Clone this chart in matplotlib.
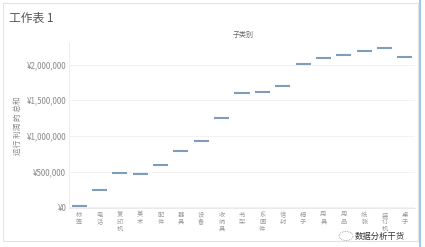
import matplotlib
matplotlib.use("Agg")
import matplotlib.pyplot as plt
from matplotlib.patches import Rectangle, Ellipse
import numpy as np

plt.rcParams['font.family'] = ['Noto Sans CJK SC', 'DejaVu Sans']

# running total of profit per sub-category
categories = ["标签", "电话", "复印机", "美术", "配件", "器具", "设备", "收纳具", "书架",
              "系固件", "信封", "椅子", "用具", "用品", "纸张", "装订机", "桌子"]
running_total = [24000, 240000, 486000, 468000, 598000, 790000, 934000, 1248000, 1606000,
                 1620000, 1700000, 2013000, 2097000, 2134000, 2195000, 2237000, 2106000]
yticks = [0, 500000, 1000000, 1500000, 2000000]
ytick_labels = ["¥0", "¥500,000", "¥1,000,000", "¥1,500,000", "¥2,000,000"]

W, H = 425, 247
fig = plt.figure(figsize=(W / 100, H / 100), dpi=100)

def px(x0, y0, x1, y1):
    # pixel box -> figure fraction [left, bottom, width, height]
    return [x0 / W, 1 - y1 / H, (x1 - x0) / W, (y1 - y0) / H]

# outer sheet border and the blue edge on the right
fig.add_artist(Rectangle((3 / W, 1 - 241 / H), 415 / W, 238 / H, transform=fig.transFigure,
                         fill=False, edgecolor="#e3e3e3", linewidth=0.8))
fig.add_artist(plt.Line2D([420 / W, 420 / W], [0, 1], transform=fig.transFigure,
                          color="#8fbce6", linewidth=1.2))

fig.text(9 / W, 1 - 18 / H, "工作表 1", fontsize=8.5, color="#555555", va="center", ha="left")

ax = fig.add_axes(px(69, 42, 415, 208))
x = np.arange(len(categories))
ax.hlines(running_total, x - 0.37, x + 0.37, color="#7f9cb8", linewidth=1.5)

ax.set_xlim(-0.5, len(categories) - 0.5)
ax.set_ylim(-9000, 2316000)
ax.set_yticks(yticks)
ax.set_yticklabels(ytick_labels, fontsize=5.7, color="#888888")
ax.set_xticks(x)
ax.set_xticklabels(["\n".join(c) for c in categories], fontsize=4.5, color="#999999",
                   va="top", linespacing=0.85)
ax.tick_params(axis="both", length=0, pad=2)
ax.grid(axis="y", color="#f2f2f2", linewidth=0.7)
ax.set_axisbelow(True)
for s in ["top", "right"]:
    ax.spines[s].set_visible(False)
ax.spines["left"].set_color("#eeeeee")
ax.spines["left"].set_linewidth(0.7)
ax.spines["bottom"].set_color("#e6e6e6")
ax.spines["bottom"].set_linewidth(0.6)
ax.spines["bottom"].set_linestyle((0, (1, 1)))

fig.text(243 / W, 1 - 35 / H, "子类别", fontsize=5, color="#666666", ha="center", va="center")
fig.text(18 / W, 1 - 126 / H, "运行 利润 的 总和", fontsize=5.5, color="#888888",
         rotation=90, ha="center", va="center")

# watermark
fig.add_artist(Ellipse((346 / W, 1 - 236 / H), 14 / W, 9 / H, transform=fig.transFigure,
                       fill=False, edgecolor="#999999", linewidth=0.6, linestyle=(0, (1, 1))))
fig.text(355 / W, 1 - 236 / H, "数据分析干货", fontsize=6, color="#333333",
         ha="left", va="center")

fig.savefig("out.png", dpi=100)
